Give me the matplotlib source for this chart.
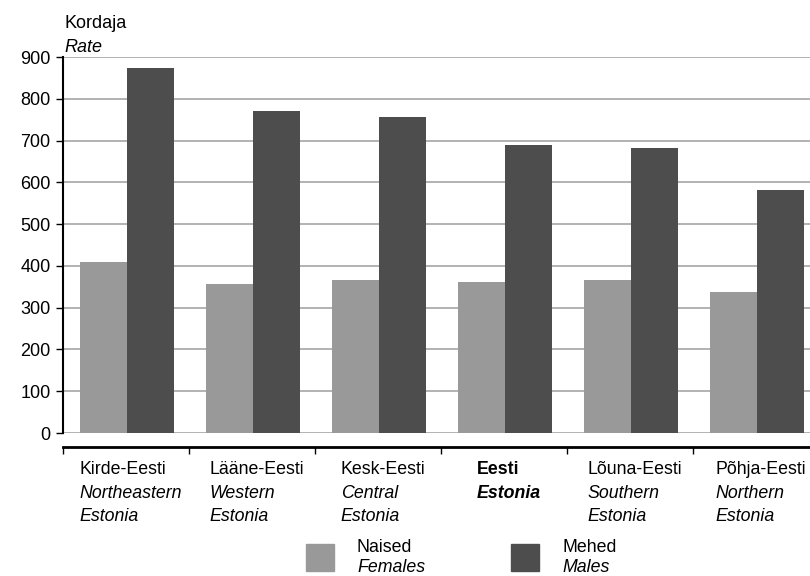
import numpy as np
import matplotlib
matplotlib.use("Agg")
import matplotlib.pyplot as plt
from matplotlib.offsetbox import TextArea, VPacker, AnnotationBbox
from matplotlib.patches import Rectangle
import matplotlib.transforms as mtransforms

# data
regions_et = ["Kirde-Eesti", "Lääne-Eesti", "Kesk-Eesti", "Eesti", "Lõuna-Eesti", "Põhja-Eesti"]
regions_en = [["Northeastern", "Estonia"], ["Western", "Estonia"], ["Central", "Estonia"],
              ["Estonia"], ["Southern", "Estonia"], ["Northern", "Estonia"]]
females = [409, 357, 366, 361, 366, 337]
males = [874, 771, 756, 689, 682, 582]
yticks = [0, 100, 200, 300, 400, 500, 600, 700, 800, 900]
highlight = "Eesti"

plt.rcParams["font.family"] = ["Liberation Sans", "DejaVu Sans"]
FS = 12.8

W, H = 810, 576
fig = plt.figure(figsize=(W / 100, H / 100), dpi=100)
ax = fig.add_axes([63 / W, (H - 433) / H, 747 / W, (433 - 57) / H])

x = np.arange(len(regions_et))
bw = 0.373
ax.bar(x - 0.178, females, bw, color="#999999", zorder=3)
ax.bar(x + 0.195, males, bw, color="#4d4d4d", zorder=3)

ax.set_ylim(0, 900)
ax.set_xlim(-0.5, -0.5 + 747 / 126)
ax.set_yticks(yticks)
ax.yaxis.grid(True, color="#a6a6a6", linewidth=1.2, zorder=0)
ax.set_axisbelow(True)

for s in ["top", "right"]:
    ax.spines[s].set_visible(False)
ax.spines["left"].set_linewidth(1.5)
ax.spines["bottom"].set_position(("outward", 10))
ax.spines["bottom"].set_linewidth(2)
ax.set_xticks(np.arange(len(regions_et)) - 0.5)
ax.set_xticklabels([])
ax.tick_params(axis="x", length=5, width=1, direction="out")
ax.tick_params(axis="y", length=5, width=1, direction="out", labelsize=13, pad=4)

# category labels: Estonian line plus English lines in italics
trans = mtransforms.blended_transform_factory(ax.transData, ax.transAxes)
for i, (et, en) in enumerate(zip(regions_et, regions_en)):
    bold = "bold" if et == highlight else "normal"
    lines = [TextArea(et, textprops=dict(fontsize=FS, fontweight=bold))]
    for ln in en:
        lines.append(TextArea(ln, textprops=dict(fontsize=FS, fontweight=bold, style="italic")))
    box = VPacker(children=lines, align="left", pad=0, sep=4.6)
    ab = AnnotationBbox(box, (i + 0.04, -0.075), xycoords=trans, box_alignment=(0.5, 1),
                        frameon=False, annotation_clip=False)
    ax.add_artist(ab)

# axis title
fig.text(64 / W, 1 - 23 / H, "Kordaja", fontsize=13, va="center")
fig.text(64 / W, 1 - 47 / H, "Rate", fontsize=13, style="italic", va="center")

# legend
for px, col, et, en in [(306, "#999999", "Naised", "Females"), (511, "#4d4d4d", "Mehed", "Males")]:
    fig.add_artist(Rectangle((px / W, (H - 571) / H), 28 / W, 27 / H,
                             transform=fig.transFigure, color=col))
    fig.text((px + 51) / W, 1 - 547 / H, et, fontsize=FS, va="center")
    fig.text((px + 51) / W, 1 - 567 / H, en, fontsize=FS, style="italic", va="center")

fig.savefig("out.png", dpi=100)
